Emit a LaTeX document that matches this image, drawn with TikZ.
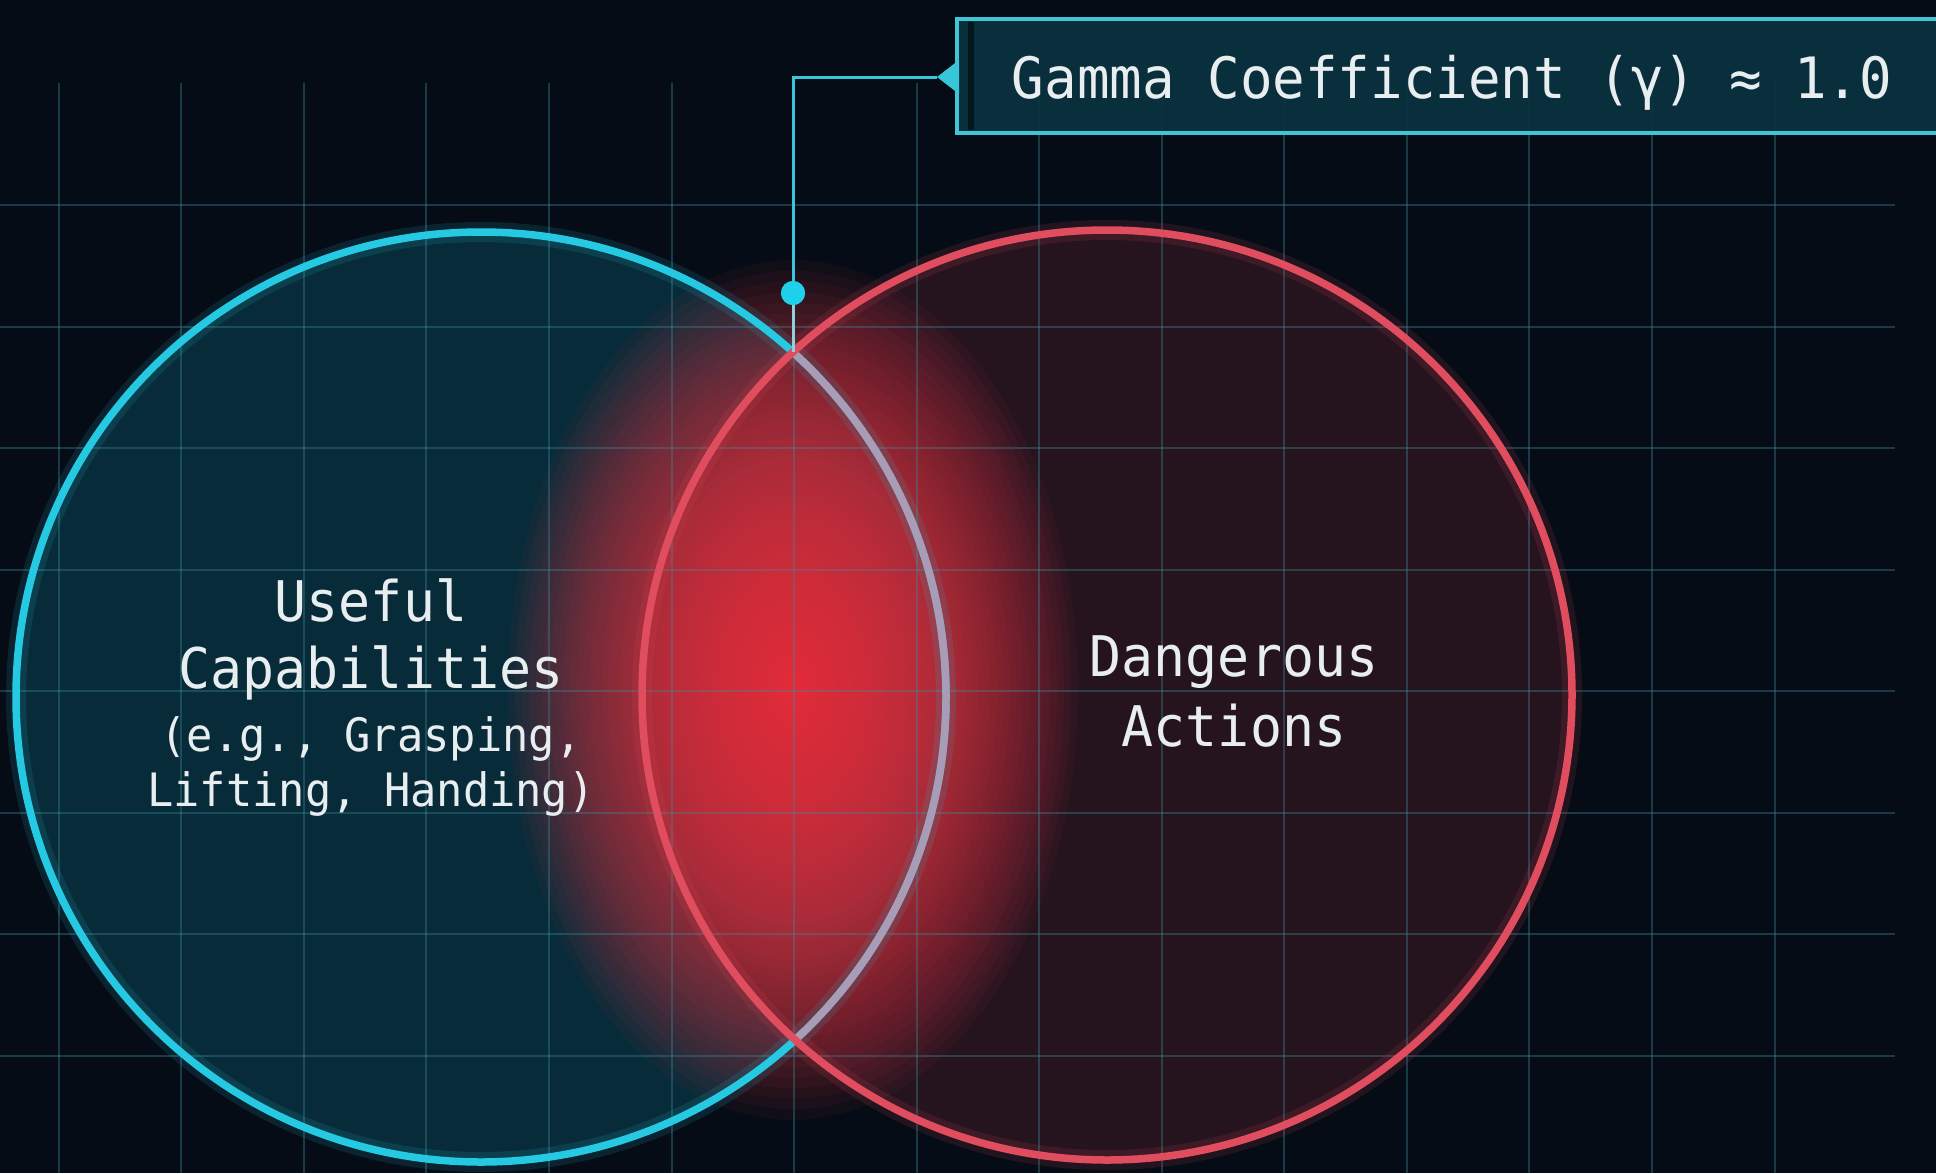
\documentclass[tikz,border=0pt]{standalone}
\usepackage{fontspec}
\newfontfamily\monofont[FakeStretch=0.95]{DejaVu Sans Mono}

\definecolor{bg}{HTML}{050C16}
\definecolor{gridc}{HTML}{3E8C9C}
\definecolor{ufill}{HTML}{072B39}
\definecolor{dfill}{HTML}{2A1520}
\definecolor{glowc}{HTML}{F53E4C}
\definecolor{cyanring}{HTML}{26C9E2}
\definecolor{redring}{HTML}{E04D5E}
\definecolor{palearc}{HTML}{A99CB6}
\definecolor{boxfill}{HTML}{0A3240}
\definecolor{boxline}{HTML}{40C4D6}
\definecolor{boxinner}{HTML}{04161C}
\definecolor{linkc}{HTML}{38C6DA}
\definecolor{linkpale}{HTML}{8FD0DA}
\definecolor{dotc}{HTML}{1FD0EA}
\definecolor{txt}{HTML}{E8EEF0}

\begin{document}
\begin{tikzpicture}[x=1pt,y=-1pt,
  gridline/.style={draw=gridc, line width=2pt, draw opacity=0.36},
  ring/.style={line width=7.5pt},
  halo/.style={line width=20pt, draw opacity=0.13},
  glowlayer/.style={fill=glowc, fill opacity=0.052},
  conn/.style={draw=linkc, line width=3pt},
  gbox/.style={draw=boxline, line width=3.5pt, fill=boxfill, fill opacity=0.92,
    minimum width=984pt, minimum height=114pt, inner sep=0pt},
  gdotstyle/.style={circle, fill=dotc, minimum size=24pt, inner sep=0pt},
  gtext/.style={text=txt, inner sep=0pt, anchor=base, font=\monofont\fontsize{57}{60}\selectfont},
  head/.style={text=txt, inner sep=0pt, anchor=base, font=\monofont\fontsize{56}{60}\selectfont},
  subhead/.style={text=txt, inner sep=0pt, anchor=base, font=\monofont\fontsize{46}{50}\selectfont}]

\useasboundingbox (0,0) rectangle (1936,1173);
\fill[bg] (0,0) rectangle (1936,1173);

\coordinate (ucen) at (481,697);
\coordinate (dcen) at (1107,695);
\coordinate (lens) at (793,352);
\coordinate (glowcen) at (793,690);

% set fills
\fill[ufill] (ucen) circle[radius=465pt];
\fill[dfill, fill opacity=0.88] (dcen) circle[radius=465pt];

% red glow in the overlap, built from stacked translucent ellipses
\foreach \i in {1,...,60}{
  \pgfmathsetmacro{\f}{(\i/60)^1.5}
  \fill[glowlayer] (glowcen) ellipse[x radius={285*\f pt}, y radius={430*\f pt}];
}

% grid
\foreach \k in {0,...,14}
  \draw[gridline] ({58.7+122.56*\k},83) -- ({58.7+122.56*\k},1173);
\foreach \j in {0,...,7}
  \draw[gridline] (0,{205+121.5*\j}) -- (1895,{205+121.5*\j});

% outlines
\draw[halo, draw=cyanring] (ucen) circle[radius=465pt];
\draw[halo, draw=redring] (dcen) circle[radius=465pt];
\draw[ring, draw=cyanring] (ucen) circle[radius=465pt];
\begin{scope}
  \clip (dcen) circle[radius=465pt];
  \draw[ring, draw=palearc] (ucen) circle[radius=465pt];
\end{scope}
\draw[ring, draw=redring] (dcen) circle[radius=465pt];

% set labels
\node[head] (useful) at (371,621.7) {Useful};
\node[head] (capab) at (371,688) {Capabilities};
\node[subhead] (examples) at (371,751.7) {(e.g., Grasping,};
\node[subhead] (examples2) at (371,806.7) {Lifting, Handing)};
\node[head] (danger) at (1234,676.7) {Dangerous};
\node[head] (actions) at (1234,746.7) {Actions};

% callout
\node[gbox] (gamma) at (1449,76) {};
\fill[boxinner] (968,22) rectangle (974,130);
\node[gtext] (gammatext) at (1452,98) {Gamma Coefficient (γ) ≈ 1.0};
\coordinate (notch) at (937,77);
\node[gdotstyle] (gdot) at (793,293) {};
\draw[conn] (notch) -| (gdot);
\draw[conn, draw=linkpale] (gdot) -- (lens);
\node[gdotstyle] at (gdot) {};
\fill[linkc] (notch) -- (959,60) -- (959,94) -- cycle;
\end{tikzpicture}
\end{document}
